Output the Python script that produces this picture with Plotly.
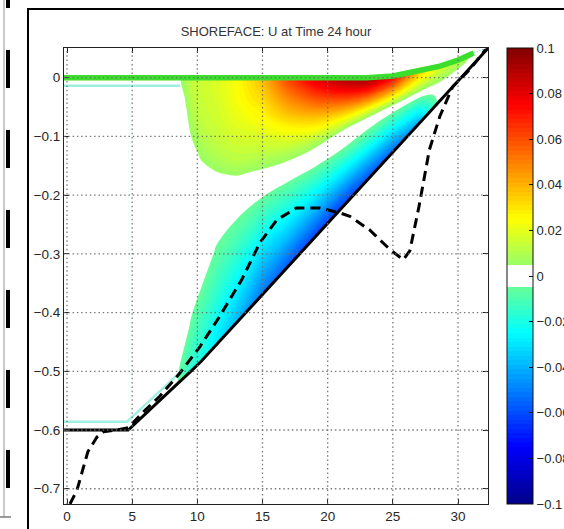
import plotly.graph_objects as go

# ---------------- data ----------------
# cross-shore positions of the model columns (m)
col_x = [-0.6, 4.7, 8.2, 9.0, 9.6, 10.3, 11.5, 13.0, 15.0, 17.0, 19.0, 21.0,
         23.0, 25.0, 27.0, 28.5, 30.0, 31.2, 32.3]
# free-surface elevation at each column (m)
surface_z = [0.0, 0.0, 0.0, 0.0, 0.0, 0.0, 0.0, 0.0, 0.0, 0.0, 0.0, 0.0,
             0.0, 0.003, 0.011, 0.019, 0.030, 0.042, 0.0505]
# bed elevation at each column (m)
bed_z = [-0.6, -0.6, -0.527, -0.511, -0.498, -0.483, -0.454, -0.417, -0.369,
         -0.321, -0.272, -0.224, -0.175, -0.127, -0.079, -0.043, -0.007, 0.022, 0.05]
# fractional depth of the vertical levels (0 = surface, 1 = bed)
sigma_frac = [0, 0.023, 0.04, 0.1, 0.18, 0.26, 0.34, 0.41, 0.48, 0.55, 0.65,
              0.75, 0.85, 0.955, 0.975, 0.99, 1.0]

# U (m/s) in each column, surface -> bed
u_columns = [
    [0, 0, 0, 0, 0, 0, 0, 0, 0, 0, 0, 0, 0, 0, 0, 0, 0],
    [0, 0, 0, 0, 0, 0, 0, 0, 0, 0, 0, 0, 0, 0, 0, 0, 0],
    [0, 0, 0, 0, 0, 0, 0, 0, 0, 0, 0, 0, 0, 0, 0, 0, 0],
    [0.008, 0.007, 0.006, 0.003, 0, 0, 0, 0, 0, 0, 0, 0, -0.001, -0.010, -0.012, -0.013, -0.014],
    [0.013, 0.013, 0.013, 0.011, 0.007, 0.002, 0, 0, 0, 0, 0, -0.001, -0.008, -0.015, -0.016, -0.017, -0.018],
    [0.015, 0.015, 0.015, 0.014, 0.012, 0.007, 0.002, 0, 0, 0, -0.001, -0.0055, -0.012, -0.018, -0.019, -0.020, -0.021],
    [0.018, 0.018, 0.018, 0.017, 0.015, 0.012, 0.006, 0.001, 0, -0.002, -0.006, -0.012, -0.019, -0.027, -0.028, -0.029, -0.030],
    [0.024, 0.024, 0.024, 0.023, 0.020, 0.016, 0.011, 0.004, 0, -0.003, -0.010, -0.018, -0.026, -0.035, -0.037, -0.038, -0.040],
    [0.038, 0.037, 0.036, 0.032, 0.026, 0.019, 0.013, 0.006, 0, -0.005, -0.015, -0.026, -0.036, -0.047, -0.049, -0.051, -0.053],
    [0.062, 0.060, 0.058, 0.050, 0.039, 0.027, 0.017, 0.008, 0.001, -0.005, -0.016, -0.027, -0.039, -0.053, -0.055, -0.058, -0.060],
    [0.080, 0.078, 0.075, 0.065, 0.050, 0.035, 0.021, 0.009, 0, -0.004, -0.016, -0.029, -0.042, -0.056, -0.059, -0.061, -0.063],
    [0.090, 0.088, 0.086, 0.075, 0.057, 0.038, 0.020, 0.005, -0.001, -0.005, -0.017, -0.030, -0.044, -0.058, -0.060, -0.062, -0.064],
    [0.095, 0.093, 0.090, 0.078, 0.058, 0.037, 0.016, 0.002, -0.003, -0.008, -0.019, -0.031, -0.043, -0.055, -0.057, -0.059, -0.061],
    [0.078, 0.076, 0.073, 0.062, 0.046, 0.029, 0.012, 0.001, -0.005, -0.012, -0.021, -0.031, -0.041, -0.051, -0.053, -0.055, -0.057],
    [0.036, 0.035, 0.034, 0.030, 0.024, 0.017, 0.009, 0.004, -0.003, -0.009, -0.017, -0.024, -0.031, -0.039, -0.040, -0.042, -0.043],
    [0.020, 0.020, 0.019, 0.017, 0.014, 0.011, 0.008, 0.006, 0.004, 0.002, 0, -0.001, -0.002, -0.003, -0.003, -0.003, -0.003],
    [0.012, 0.012, 0.012, 0.011, 0.010, 0.008, 0.007, 0.005, 0.004, 0.002, 0, 0, 0, 0, 0, 0, 0],
    [0.004, 0.004, 0.004, 0.004, 0.004, 0.003, 0.003, 0.002, 0.002, 0.001, 0, 0, 0, 0, 0, 0, 0],
    [0, 0, 0, 0, 0, 0, 0, 0, 0, 0, 0, 0, 0, 0, 0, 0, 0],
]
# the colour field is drawn from the sloping part of the profile onward
field_first_col = 1

# thin weak-return layers under the surface and above the bed (offshore part)
thin_top_x = [-0.23, 8.7]
thin_top_z = [-0.0135, -0.0135]
thin_bot_x = [-0.23, 4.6, 8.9]
thin_bot_z = [-0.586, -0.586, -0.497]

# dashed profile
dash_x = [0.23, 0.77, 1.6, 2.3, 2.8, 3.8, 4.7, 6.0, 7.1, 8.66, 10.2, 11.7, 13.4,
          14.8, 16.1, 17.6, 19.4, 20.9, 21.7, 23.2, 24.8, 25.8, 26.3, 27.0, 27.8,
          28.6, 29.6, 30.9, 31.7, 32.1]
dash_z = [-0.726, -0.702, -0.637, -0.612, -0.603, -0.600, -0.596, -0.566, -0.543,
          -0.503, -0.458, -0.407, -0.344, -0.281, -0.242, -0.222, -0.222, -0.230,
          -0.236, -0.259, -0.293, -0.310, -0.295, -0.220, -0.123, -0.066, -0.015,
          0.014, 0.036, 0.048]

x_ticks = [0, 5, 10, 15, 20, 25, 30]
x_labels = ["0", "5", "10", "15", "20", "25", "30"]
y_ticks = [0, -0.1, -0.2, -0.3, -0.4, -0.5, -0.6, -0.7]
y_labels = ["0", "\u22120.1", "\u22120.2", "\u22120.3", "\u22120.4", "\u22120.5", "\u22120.6", "\u22120.7"]
cb_ticks = [0.1, 0.08, 0.06, 0.04, 0.02, 0, -0.02, -0.04, -0.06, -0.08, -0.1]
cb_labels = ["0.1", "0.08", "0.06", "0.04", "0.02", "0", "\u22120.02", "\u22120.04",
             "\u22120.06", "\u22120.08", "\u22120.1"]
title_text = "SHOREFACE: U at Time 24 hour"

# ---------------- build the sigma grid ----------------
cols = list(range(field_first_col, len(col_x)))
fa = [col_x[i] for i in cols]
grid_x = [[col_x[i] for i in cols] for f in sigma_frac]
grid_y = [[surface_z[i] - f * (surface_z[i] - bed_z[i]) for i in cols] for f in sigma_frac]
grid_u = [[u_columns[i][j] for i in cols] for j in range(len(sigma_frac))]

jet_white = [
    [0.0, "rgb(0,0,135)"],
    [0.125, "rgb(0,0,255)"],
    [0.375, "rgb(0,255,255)"],
    [0.4775, "rgb(105,255,150)"],
    [0.48, "rgb(255,255,255)"],
    [0.52, "rgb(255,255,255)"],
    [0.5225, "rgb(150,255,105)"],
    [0.625, "rgb(255,255,0)"],
    [0.875, "rgb(255,0,0)"],
    [1.0, "rgb(128,0,0)"],
]

hidden_axis = dict(showgrid=False, showline=False, showticklabels="none",
                   startline=False, endline=False, minorgridcount=0, smoothing=0)

fig = go.Figure()
fig.add_trace(go.Carpet(carpet="c1", a=fa, b=sigma_frac, x=grid_x, y=grid_y,
                        aaxis=hidden_axis, baxis=hidden_axis))
fig.add_trace(go.Contourcarpet(
    carpet="c1", a=fa, b=sigma_frac, z=grid_u,
    autocontour=False,
    contours=dict(start=-0.101, end=0.101, size=0.002, coloring="fill", showlines=False),
    line=dict(width=0),
    colorscale=jet_white, zmin=-0.1, zmax=0.1,
    colorbar=dict(x=(507 - 64) / 424, xanchor="left", xpad=0, ypad=0,
                  y=0.5, yanchor="middle", len=1, lenmode="fraction",
                  thickness=26, thicknessmode="pixels",
                  outlinecolor="#111", outlinewidth=1,
                  tickmode="array", tickvals=cb_ticks, ticktext=cb_labels,
                  ticks="inside", ticklen=4, tickcolor="#111",
                  tickfont=dict(family="Liberation Sans, Arial", size=13, color="#262626")),
))
thin_style = dict(color="rgb(160,240,225)", width=2.5)
fig.add_trace(go.Scatter(x=thin_top_x, y=thin_top_z, mode="lines", line=thin_style,
                         hoverinfo="skip", showlegend=False))
fig.add_trace(go.Scatter(x=thin_bot_x, y=thin_bot_z, mode="lines", line=thin_style,
                         hoverinfo="skip", showlegend=False))
# free surface (top layer)
fig.add_trace(go.Scatter(x=col_x[:-1], y=surface_z[:-1], mode="lines",
                         line=dict(color="rgb(60,222,45)", width=5.5),
                         hoverinfo="skip", showlegend=False))
# bed
fig.add_trace(go.Scatter(x=col_x, y=bed_z, mode="lines",
                         line=dict(color="black", width=3),
                         hoverinfo="skip", showlegend=False))
# dashed profile
fig.add_trace(go.Scatter(x=dash_x, y=dash_z, mode="lines",
                         line=dict(color="black", width=3, dash="10px,6px"),
                         hoverinfo="skip", showlegend=False))

shapes = []
grid_style = dict(color="rgba(110,110,110,0.9)", width=1.3, dash="1.5px,2.8px")
for xv in x_ticks:
    shapes.append(dict(type="line", xref="x", yref="paper", x0=xv, x1=xv, y0=0, y1=1,
                       line=grid_style, layer="above"))
for yv in y_ticks:
    shapes.append(dict(type="line", xref="paper", yref="y", x0=0, x1=1, y0=yv, y1=yv,
                       line=grid_style, layer="above"))
# outer figure frame and neighbouring panel edge
shapes.append(dict(type="rect", xref="paper", yref="paper",
                   x0=(28 - 64) / 424, x1=1.3, y0=-0.2, y1=(504 - 9) / 456,
                   line=dict(color="black", width=2), layer="above"))
shapes.append(dict(type="line", xref="paper", yref="paper",
                   x0=(4 - 64) / 424, x1=(4 - 64) / 424, y0=(504 - 517) / 456, y1=1.2,
                   line=dict(color="rgb(150,150,150)", width=1), layer="above"))
shapes.append(dict(type="line", xref="paper", yref="paper",
                   x0=(0 - 64) / 424, x1=(11 - 64) / 424, y0=(504 - 517) / 456, y1=(504 - 517) / 456,
                   line=dict(color="rgb(120,120,120)", width=1.5), layer="above"))
shapes.append(dict(type="line", xref="paper", yref="paper",
                   x0=(8 - 64) / 424, x1=(8 - 64) / 424, y0=(504 + 30) / 456, y1=(504 - 529) / 456,
                   line=dict(color="black", width=4, dash="38px,42px"), layer="above"))

tick_font = dict(family="Liberation Sans, Arial", size=13.5, color="#262626")
fig.update_layout(
    width=564, height=529,
    margin=dict(l=64, r=76, t=48, b=25, autoexpand=False),
    paper_bgcolor="white", plot_bgcolor="white",
    showlegend=False,
    title=dict(text=title_text, x=(276) / 564, xanchor="center",
               y=1 - 31 / 529, yanchor="middle",
               font=dict(family="Liberation Sans, Arial", size=13, color="#333")),
    xaxis=dict(range=[-0.23, 32.3], tickmode="array", tickvals=x_ticks, ticktext=x_labels,
               ticks="inside", ticklen=5, tickcolor="#222", mirror="ticks",
               showline=True, linecolor="#222", linewidth=1, showgrid=False,
               zeroline=False, tickfont=tick_font),
    yaxis=dict(range=[-0.726, 0.0506], tickmode="array", tickvals=y_ticks, ticktext=y_labels,
               ticks="inside", ticklen=5, tickcolor="#222", mirror="ticks",
               showline=True, linecolor="#222", linewidth=1, showgrid=False,
               zeroline=False, tickfont=tick_font),
    shapes=shapes,
)

fig.write_html("out.html")
